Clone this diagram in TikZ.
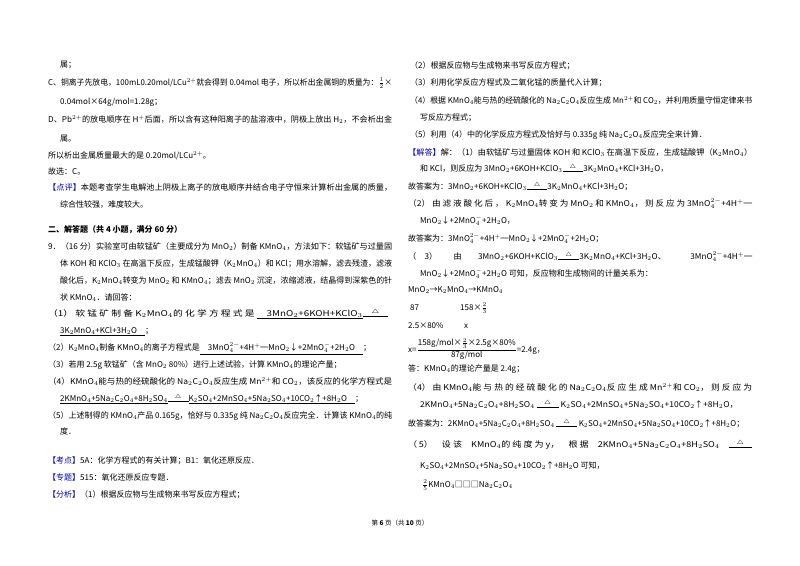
\documentclass[tikz,border=0pt]{standalone}
\usepackage{fontspec}
\usepackage{graphicx}
\setmainfont{Noto Sans CJK SC}
\newcommand\heat{\ensuremath{\mathrel{\mathop{\hbox to 2.6em{\hrulefill}}\limits^{\triangle}}}}
\newcommand\bl[1]{\textcolor{blue!70!black}{#1}}
\newcommand\T[4]{\node[tx] (#1) at (#2,#3) {#4};}
\newcommand\J[5]{\node[tx] (#1) at (#2,#3) {\resizebox{#4pt}{\height}{#5}};}
\begin{document}
\begin{tikzpicture}[x=1pt,y=-1pt,tx/.style={anchor=base west,inner sep=0pt,font=\fontsize{8}{10}\selectfont}]
\useasboundingbox (0,0) rectangle (800,565);
\fill[white] (0,0) rectangle (800,565);
\T{a1}{60}{67}{属；}
\J{a2}{48}{85}{344}{C、铜离子先放电，100mL0.20mol/LCu$^{2+}$就会得到 0.04mol 电子，所以析出金属铜的质量为：$\frac{1}{2}$×}
\T{a3}{60}{104}{0.04mol×64g/mol=1.28g；}
\J{a4}{48}{122}{344}{D、Pb$^{2+}$的放电顺序在 H$^{+}$后面，所以含有这种阳离子的盐溶液中，阴极上放出 H$_2$，不会析出金}
\T{a5}{60}{141}{属。}
\T{a6}{48}{158}{所以析出金属质量最大的是 0.20mol/LCu$^{2+}$。}
\T{a7}{48}{174}{故选：C。}
\J{a8}{48}{190}{344}{\bl{【点评】}本题考查学生电解池上阴极上离子的放电顺序并结合电子守恒来计算析出金属的质量，}
\T{a9}{60}{207}{综合性较强，难度较大。}
\T{a10}{48}{232}{\textbf{二、解答题（共 4 小题，满分 60 分）}}
\J{a11}{48}{249}{344}{9．（16 分）实验室可由软锰矿（主要成分为 MnO$_2$）制备 KMnO$_4$，方法如下：软锰矿与过量固}
\J{a12}{60}{266}{332}{体 KOH 和 KClO$_3$ 在高温下反应，生成锰酸钾（K$_2$MnO$_4$）和 KCl；用水溶解，滤去残渣，滤液}
\J{a13}{60}{283}{332}{酸化后，K$_2$MnO$_4$转变为 MnO$_2$ 和 KMnO$_4$；滤去 MnO$_2$ 沉淀，浓缩滤液，结晶得到深紫色的针}
\T{a14}{60}{300}{状 KMnO$_4$．请回答：}
\J{a15}{48}{316}{340}{（1） 软 锰 矿 制 备 K$_2$MnO$_4$的 化 学 方 程 式 是 \underline{\quad 3MnO$_2$+6KOH+KClO$_3$}\heat}
\T{a16}{60}{333}{\underline{3K$_2$MnO$_4$+KCl+3H$_2$O\quad}；}
\T{a17}{48}{350}{（2）K$_2$MnO$_4$制备 KMnO$_4$的离子方程式是\underline{\quad 3MnO$_4^{2-}$+4H$^+$═MnO$_2$↓+2MnO$_4^-$+2H$_2$O\quad}；}
\T{a18}{48}{367}{（3）若用 2.5g 软锰矿（含 MnO$_2$ 80\%）进行上述试验，计算 KMnO$_4$的理论产量；}
\J{a19}{48}{384}{344}{（4）KMnO$_4$能与热的经硫酸化的 Na$_2$C$_2$O$_4$反应生成 Mn$^{2+}$和 CO$_2$，该反应的化学方程式是}
\T{a20}{60}{401}{\underline{2KMnO$_4$+5Na$_2$C$_2$O$_4$+8H$_2$SO$_4$}\heat\underline{K$_2$SO$_4$+2MnSO$_4$+5Na$_2$SO$_4$+10CO$_2$↑+8H$_2$O\quad}；}
\J{a21}{48}{418}{344}{（5）上述制得的 KMnO$_4$产品 0.165g，恰好与 0.335g 纯 Na$_2$C$_2$O$_4$反应完全．计算该 KMnO$_4$的纯}
\T{a22}{60}{434}{度．}
\T{a23}{48}{463}{\bl{【考点】}5A：化学方程式的有关计算；B1：氧化还原反应．}
\T{a24}{48}{480}{\bl{【专题】}515：氧化还原反应专题．}
\T{a25}{48}{497}{\bl{【分析】}（1）根据反应物与生成物来书写反应方程式；}
\T{b1}{410}{68}{（2）根据反应物与生成物来书写反应方程式；}
\T{b2}{410}{85}{（3）利用化学反应方程式及二氧化锰的质量代入计算；}
\J{b3}{410}{103}{342}{（4）根据 KMnO$_4$能与热的经硫酸化的 Na$_2$C$_2$O$_4$反应生成 Mn$^{2+}$和 CO$_2$，并利用质量守恒定律来书}
\T{b4}{420}{120}{写反应方程式；}
\T{b5}{410}{137}{（5）利用（4）中的化学反应方程式及恰好与 0.335g 纯 Na$_2$C$_2$O$_4$反应完全来计算．}
\J{b6}{408}{155}{344}{\bl{【解答】}解：（1）由软锰矿与过量固体 KOH 和 KClO$_3$ 在高温下反应，生成锰酸钾（K$_2$MnO$_4$）}
\T{b7}{420}{171}{和 KCl，则反应为 3MnO$_2$+6KOH+KClO$_3$\heat 3K$_2$MnO$_4$+KCl+3H$_2$O，}
\T{b8}{408}{189}{故答案为：3MnO$_2$+6KOH+KClO$_3$\heat 3K$_2$MnO$_4$+KCl+3H$_2$O；}
\J{b9}{408}{206}{344}{（2） 由 滤 液 酸 化 后 ， K$_2$MnO$_4$转 变 为 MnO$_2$ 和 KMnO$_4$， 则 反 应 为 3MnO$_4^{2-}$+4H$^+$═}
\T{b10}{420}{223}{MnO$_2$↓+2MnO$_4^-$+2H$_2$O，}
\T{b11}{408}{241}{故答案为：3MnO$_4^{2-}$+4H$^+$═MnO$_2$↓+2MnO$_4^-$+2H$_2$O；}
\J{b12}{408}{259}{344}{（\quad 3）\qquad 由\qquad 3MnO$_2$+6KOH+KClO$_3$\heat 3K$_2$MnO$_4$+KCl+3H$_2$O、\qquad\quad 3MnO$_4^{2-}$+4H$^+$═}
\T{b13}{420}{276}{MnO$_2$↓+2MnO$_4^-$+2H$_2$O 可知，反应物和生成物间的计量关系为：}
\T{b14}{408}{292}{MnO$_2$→K$_2$MnO$_4$→KMnO$_4$}
\T{b15}{410}{310}{87}
\T{b16}{460}{310}{158×$\frac{2}{3}$}
\T{b17}{408}{328}{2.5×80\%}
\T{b18}{464}{328}{x}
\T{b19}{408}{352}{x=$\displaystyle\frac{\hbox{158g/mol×$\frac{2}{3}$×2.5g×80\%}}{\hbox{87g/mol}}$=2.4g，}
\T{b20}{408}{371}{答：KMnO$_4$的理论产量是 2.4g；}
\J{b21}{408}{390}{344}{（4） 由 KMnO$_4$能 与 热 的 经 硫 酸 化 的 Na$_2$C$_2$O$_4$反 应 生 成 Mn$^{2+}$和 CO$_2$， 则 反 应 为}
\J{b22}{420}{407}{318}{2KMnO$_4$+5Na$_2$C$_2$O$_4$+8H$_2$SO$_4$ \heat\ K$_2$SO$_4$+2MnSO$_4$+5Na$_2$SO$_4$+10CO$_2$↑+8H$_2$O，}
\J{b23}{408}{426}{336}{故答案为：2KMnO$_4$+5Na$_2$C$_2$O$_4$+8H$_2$SO$_4$ \heat\ K$_2$SO$_4$+2MnSO$_4$+5Na$_2$SO$_4$+10CO$_2$↑+8H$_2$O；}
\J{b24}{408}{447}{344}{（\,5）\quad 设\ 该\quad KMnO$_4$的\ 纯\ 度\ 为\ y，\quad 根\ 据\quad 2KMnO$_4$+5Na$_2$C$_2$O$_4$+8H$_2$SO$_4$\quad\heat}
\T{b25}{420}{468}{K$_2$SO$_4$+2MnSO$_4$+5Na$_2$SO$_4$+10CO$_2$↑+8H$_2$O 可知，}
\T{b26}{422}{487}{$\frac{2}{5}$KMnO$_4$□□□Na$_2$C$_2$O$_4$}
\node[tx,anchor=base,font=\fontsize{6.5}{8}\selectfont] (ft) at (400,525) {第 \textbf{6} 页（共 \textbf{10} 页）};
\end{tikzpicture}
\end{document}
